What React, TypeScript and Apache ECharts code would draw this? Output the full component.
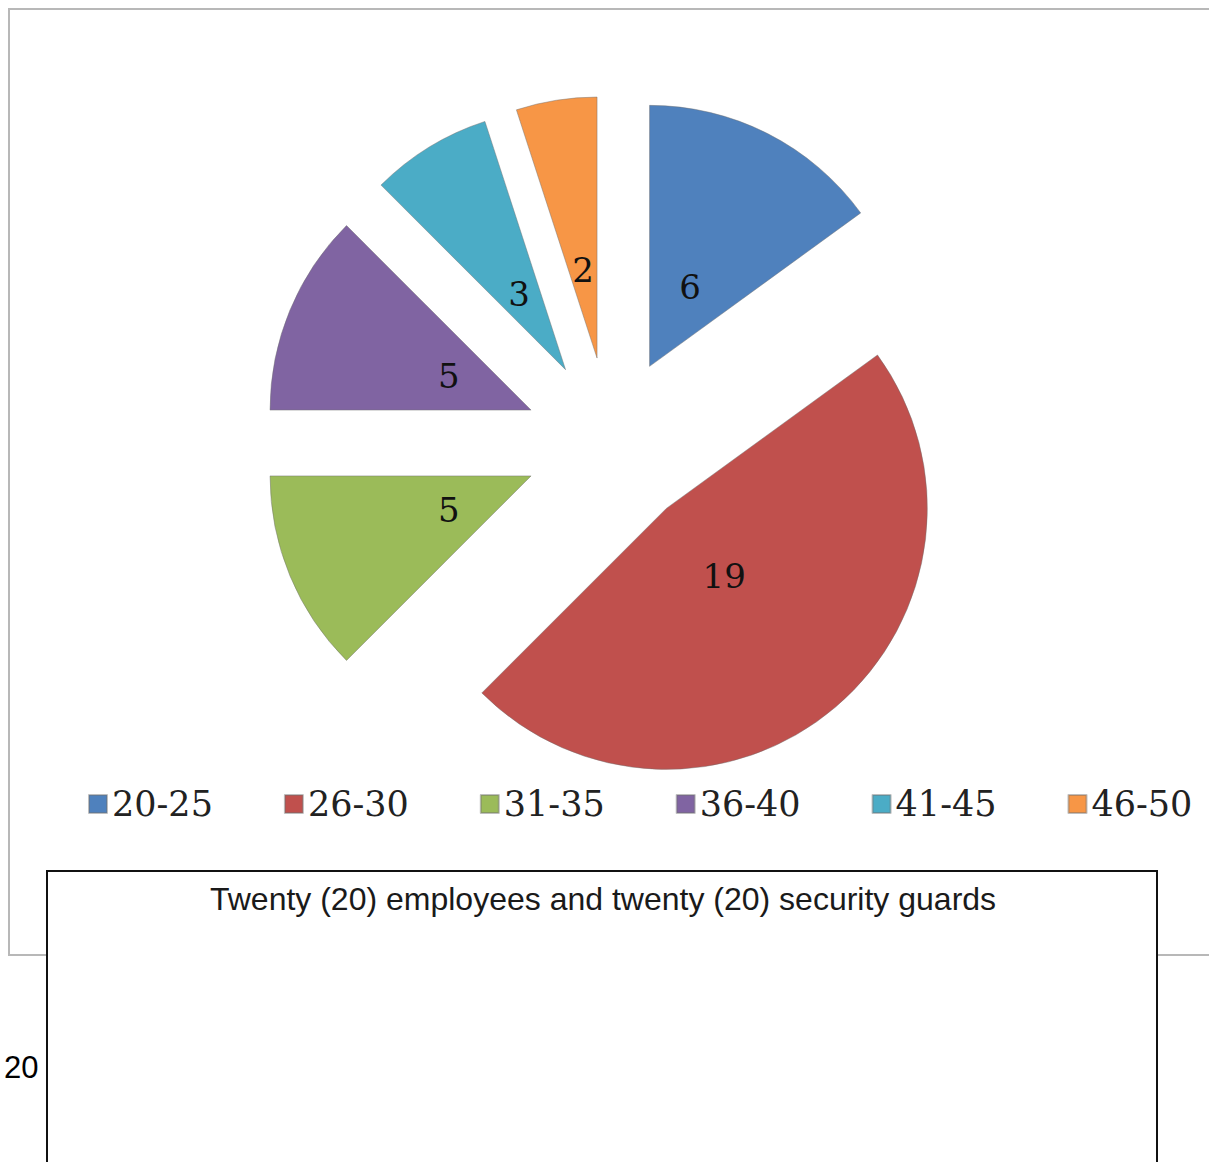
import React, { useEffect, useRef } from "react";
import * as echarts from "echarts";

const categories = ["20-25", "26-30", "31-35", "36-40", "41-45", "46-50"];
const counts = [6, 19, 5, 5, 3, 2];
const sliceColors = ["#4F81BD", "#C0504D", "#9BBB59", "#8064A2", "#4BACC6", "#F79646"];
const titleText = "Twenty (20) employees and twenty (20) security guards";
const sideLabel = "20";

export default function App() {
  const ref = useRef<HTMLDivElement>(null);

  useEffect(() => {
    if (!ref.current) return;
    const chart = echarts.init(ref.current, undefined, { renderer: "svg" });
    const center = [610.5, 443];
    const offset = 86;
    const borderStyle = { borderColor: "rgba(110,110,110,0.45)", borderWidth: 1 };

    chart.setOption({
      animation: false,
      backgroundColor: "#ffffff",
      legend: {
        data: categories,
        left: 88,
        top: 784,
        padding: 0,
        icon: "rect",
        itemWidth: 18,
        itemHeight: 18,
        itemGap: 71,
        selectedMode: false,
        textStyle: {
          fontFamily: "DejaVu Serif",
          fontSize: 35,
          color: "#222222",
          lineHeight: 40,
        },
      },
      graphic: [
        {
          type: "rect",
          z: -10,
          silent: true,
          shape: { x: 9, y: 9, width: 1230, height: 946 },
          style: { fill: "none", stroke: "#b8b8b8", lineWidth: 2 },
        },
        {
          type: "rect",
          z: 10,
          silent: true,
          shape: { x: 47, y: 871, width: 1110, height: 400 },
          style: { fill: "#ffffff", stroke: "#111111", lineWidth: 2 },
        },
        {
          type: "text",
          z: 11,
          silent: true,
          x: 603,
          y: 899,
          style: {
            text: titleText,
            fontFamily: "Liberation Sans",
            fontSize: 32,
            fill: "#1a1a1a",
            align: "center",
            verticalAlign: "middle",
          },
        },
        {
          type: "text",
          z: 11,
          silent: true,
          x: 4,
          y: 1067,
          style: {
            text: sideLabel,
            fontFamily: "Liberation Sans",
            fontSize: 31,
            fill: "#000000",
            align: "left",
            verticalAlign: "middle",
          },
        },
      ],
      series: [
        {
          type: "pie",
          center,
          radius: [0, 261],
          startAngle: 90,
          clockwise: true,
          selectedMode: "multiple",
          selectedOffset: offset,
          avoidLabelOverlap: false,
          label: { show: false },
          labelLine: { show: false },
          emphasis: { disabled: true },
          itemStyle: borderStyle,
          select: { itemStyle: borderStyle },
          data: categories.map((name, i) => ({
            name,
            value: counts[i],
            selected: true,
            itemStyle: { color: sliceColors[i] },
            select: { itemStyle: { color: sliceColors[i] } },
          })),
        },
        {
          type: "pie",
          center,
          radius: [0, 172],
          startAngle: 90,
          clockwise: true,
          selectedMode: "multiple",
          selectedOffset: offset,
          silent: true,
          avoidLabelOverlap: false,
          emphasis: { disabled: true },
          itemStyle: { color: "rgba(0,0,0,0)", borderWidth: 0 },
          select: { itemStyle: { color: "rgba(0,0,0,0)", borderWidth: 0 } },
          label: {
            show: true,
            position: "inside",
            formatter: "{c}",
            fontFamily: "DejaVu Serif",
            fontSize: 34,
            color: "#111111",
            textBorderWidth: 0,
            padding: [13, 0, 0, 0],
          },
          labelLine: { show: false },
          data: categories.map((name, i) => ({
            name,
            value: counts[i],
            selected: true,
          })),
        },
      ],
    });

    return () => chart.dispose();
  }, []);

  return (
    <div
      ref={ref}
      style={{ position: "absolute", left: 0, top: 0, width: 1209, height: 1162 }}
    />
  );
}
